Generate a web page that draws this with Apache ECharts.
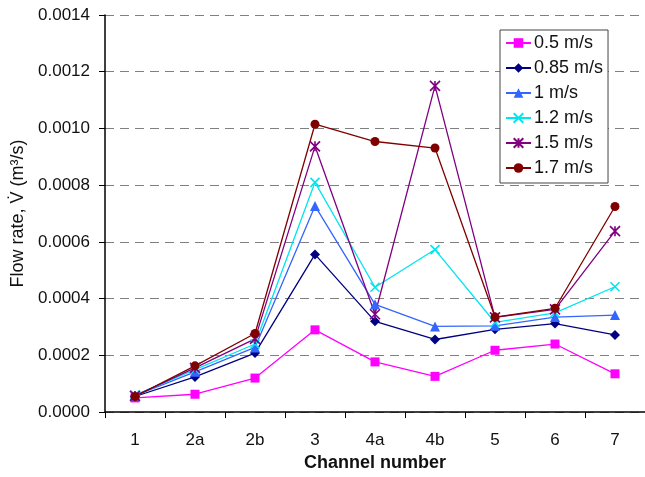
<!DOCTYPE html>
<html>
<head>
<meta charset="utf-8">
<script src="https://cdn.jsdelivr.net/npm/echarts@6/dist/echarts.min.js"></script>
<style>
html, body { margin: 0; padding: 0; background: #fff; }
#chart { width: 645px; height: 477px; }
</style>
</head>
<body>
<div id="chart"></div>
<script>
var channels = ['1', '2a', '2b', '3', '4a', '4b', '5', '6', '7'];
var v050 = [0.000050, 0.000063, 0.000120, 0.000290, 0.000177, 0.000126, 0.000218, 0.000240, 0.000135];
var v085 = [0.000055, 0.000124, 0.000208, 0.000556, 0.000320, 0.000256, 0.000292, 0.000312, 0.000272];
var v100 = [0.000058, 0.000142, 0.000228, 0.000727, 0.000380, 0.000302, 0.000304, 0.000335, 0.000342];
var v120 = [0.000060, 0.000150, 0.000240, 0.000810, 0.000440, 0.000573, 0.000316, 0.000350, 0.000442];
var v150 = [0.000057, 0.000156, 0.000258, 0.000937, 0.000345, 0.001150, 0.000334, 0.000362, 0.000638];
var v170 = [0.000055, 0.000163, 0.000277, 0.001015, 0.000954, 0.000931, 0.000335, 0.000366, 0.000725];
var yTicks = [0, 0.0002, 0.0004, 0.0006, 0.0008, 0.0010, 0.0012, 0.0014];

var crossPath = 'path://M0,0L10,10M10,0L0,10';
var starPath = 'path://M0,0L10,10M10,0L0,10M5,0L5,10';

function mkSeries(name, data, color, symbol, size, stroke) {
	var s = {
		name: name,
		type: 'line',
		data: data,
		symbol: symbol,
		symbolSize: size,
		color: color,
		lineStyle: { width: 1.3, color: color },
		itemStyle: { color: color }
	};
	if (stroke) {
		s.itemStyle = { color: 'rgba(0,0,0,0)', borderColor: color, borderWidth: 1.6 };
	}
	return s;
}

var chart = echarts.init(document.getElementById('chart'));
var gridLine = { lineStyle: { color: '#808080', type: [9, 6], width: 1.2 } };
var option = {
	animation: false,
	textStyle: { fontFamily: 'Liberation Sans, Arial, sans-serif' },
	grid: { left: 105, right: 0, top: 15, bottom: 64 },
	legend: {
		orient: 'vertical',
		left: 500,
		top: 30,
		backgroundColor: '#fff',
		borderColor: '#444',
		borderWidth: 1,
		padding: [4, 5, 6, 5],
		itemGap: 7,
		itemWidth: 25,
		itemHeight: 12,
		textStyle: { fontSize: 18, color: '#111', padding: [0, 0, 0, -2] }
	},
	xAxis: {
		type: 'category',
		data: channels,
		name: 'Channel number',
		nameLocation: 'middle',
		nameGap: 41,
		nameTextStyle: { fontSize: 18, fontWeight: 'bold', color: '#111' },
		axisLine: { lineStyle: { color: '#000', width: 1.5 } },
		axisTick: { show: true, length: 6, lineStyle: { color: '#000' } },
		axisLabel: { fontSize: 17, color: '#111', margin: 20 },
		splitLine: gridLine
	},
	yAxis: {
		type: 'value',
		min: 0,
		max: 0.0014,
		interval: 0.0002,
		name: 'Flow rate, V\u0307 (m\u00b3/s)',
		nameLocation: 'middle',
		nameGap: 76,
		nameTextStyle: { fontSize: 18, color: '#111' },
		axisLine: { show: true, lineStyle: { color: '#000', width: 1.5 } },
		axisTick: { show: true, length: 6, lineStyle: { color: '#000' } },
		axisLabel: {
			fontSize: 17,
			color: '#111',
			margin: 15,
			formatter: function (v) { return v.toFixed(4); }
		},
		splitLine: gridLine
	},
	series: [
		mkSeries('0.5 m/s', v050, '#ff00ff', 'rect', 9),
		mkSeries('0.85 m/s', v085, '#000080', 'diamond', 10),
		mkSeries('1 m/s', v100, '#3366ff', 'triangle', 10),
		mkSeries('1.2 m/s', v120, '#00e5ee', crossPath, 9, true),
		mkSeries('1.5 m/s', v150, '#800080', starPath, 10, true),
		mkSeries('1.7 m/s', v170, '#800000', 'circle', 9)
	]
};
chart.setOption(option);
window.addEventListener('resize', function () {
	chart.resize();
});
</script>
</body>
</html>
